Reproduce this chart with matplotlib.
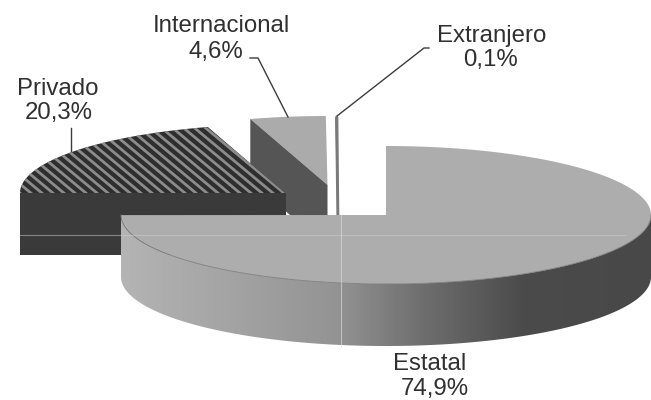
import numpy as np
import matplotlib
matplotlib.use("Agg")
import matplotlib.pyplot as plt
from matplotlib.patches import Polygon
from matplotlib.colors import LinearSegmentedColormap

plt.rcParams['font.family'] = ['Liberation Sans', 'DejaVu Sans']

categories = ["Estatal", "Privado", "Internacional", "Extranjero"]
values = [74.9, 20.3, 4.6, 0.1]
value_labels = ["74,9%", "20,3%", "4,6%", "0,1%"]

RX, RY, DEPTH = 265, 69, 62
centers = {"Estatal": (386, 215), "Privado": (285, 193),
           "Internacional": (327.5, 185), "Extranjero": (337.5, 186)}

# angles: start at 12 o'clock, clockwise
fr = np.array(values) / sum(values) * 360
stops = 90 - np.cumsum(np.r_[0, fr])
angles = {c: (stops[i], stops[i + 1]) for i, c in enumerate(categories)}


def arc(c, a0, a1, n=200, dy=0):
    cx, cy = centers[c]
    t = np.radians(np.linspace(a0, a1, n))
    return np.c_[cx + RX * np.cos(t), cy - RY * np.sin(t) + dy]


def top(c):
    a0, a1 = angles[c]
    return np.vstack([centers[c], arc(c, a0, a1)])


fig = plt.figure(figsize=(6.51, 4.0), dpi=100)
ax = fig.add_axes([0, 0, 1, 1])
ax.set_xlim(0, 651)
ax.set_ylim(400, 0)
ax.axis("off")

# Internacional: radial inner wall + top
c = "Internacional"
cx, cy = centers[c]
q = arc(c, angles[c][0], angles[c][0], 1)[0]
sw = [q, (cx, cy), (cx, cy + DEPTH), (q[0], q[1] + DEPTH)]
ax.add_patch(Polygon(top(c), fc="#ababab", ec="none", zorder=2))
ax.add_patch(Polygon(sw, fc="#555555", ec="none", zorder=3))

# Extranjero: sliver, seen almost edge on
c = "Extranjero"
cx, cy = centers[c]
ax.add_patch(Polygon(top(c), fc="#7a7a7a", ec="#7a7a7a", lw=1.0, zorder=2))
ax.add_patch(Polygon(np.vstack([arc(c, *angles[c], 5), [(cx + 1.5, cy + DEPTH), (cx, cy + DEPTH)]]),
                     fc="#7a7a7a", ec="#7a7a7a", lw=1.0, zorder=2))

# Privado
c = "Privado"
cx, cy = centers[c]
tp = Polygon(top(c), fc="#2e2e2e", ec="none", zorder=4)
ax.add_patch(tp)
for x0 in np.arange(-80, 420, 11.0):
    ln, = ax.plot([x0, x0 + 160], [110, 110 + 133], color="#8c8c8c", lw=2.0,
                  solid_capstyle="butt", zorder=5)
    ln.set_clip_path(tp)
ax.add_patch(Polygon([(cx - RX, cy), (cx + 1, cy), (cx + 1, cy + DEPTH), (cx - RX, cy + DEPTH)],
                     fc="#3a3a3a", ec="none", zorder=6))

# Estatal
c = "Estatal"
cx, cy = centers[c]
front = arc(c, 180, 360, 300)
side = Polygon(np.vstack([front, arc(c, 360, 180, 300, dy=DEPTH)]), fc="none", ec="none", zorder=7)
ax.add_patch(side)
cmap = LinearSegmentedColormap.from_list("g", [
    (0.0, "#b4b4b4"), (0.41, "#939393"), (0.56, "#707070"),
    (0.76, "#4b4b4b"), (1.0, "#484848")])
im = ax.imshow(np.linspace(0, 1, 532)[None, :], extent=(cx - RX, cx + RX, cy + RY + DEPTH, cy),
               aspect="auto", cmap=cmap, zorder=7, interpolation="bilinear")
im.set_clip_path(side)
ax.set_xlim(0, 651)
ax.set_ylim(400, 0)
ax.add_patch(Polygon(top(c), fc="#adadad", ec="none", zorder=8))
ax.plot(front[:, 0], front[:, 1], color="#7d7d7d", lw=0.6, zorder=9)

# faint scan lines
ax.plot([19, 625], [235, 235], color="#d0d0d0", lw=0.8, alpha=0.5, zorder=10)
ax.plot([341, 341], [215, 346], color="#e0e0e0", lw=0.8, alpha=0.6, zorder=10)

# leaders
for xs, ys in [([71, 71], [128, 152]),
               ([250, 258, 288], [58, 58, 117]),
               ([429, 424, 337], [48, 48, 116])]:
    ax.plot(xs, ys, color="#3c3c3c", lw=1.0, zorder=3)

# labels
pos = {"Estatal": ((430, 364), (434.5, 389)), "Privado": ((58, 89), (59, 113)),
       "Internacional": ((221.5, 26), (216, 52)), "Extranjero": ((492, 36), (490, 60))}
for i, name in enumerate(categories):
    (x1, y1), (x2, y2) = pos[name]
    ax.text(x1, y1, name, ha="center", va="center", fontsize=17.3, color="#303030", zorder=11)
    ax.text(x2, y2, value_labels[i], ha="center", va="center", fontsize=17.3, color="#303030", zorder=11)

fig.savefig("out.png", dpi=100)
